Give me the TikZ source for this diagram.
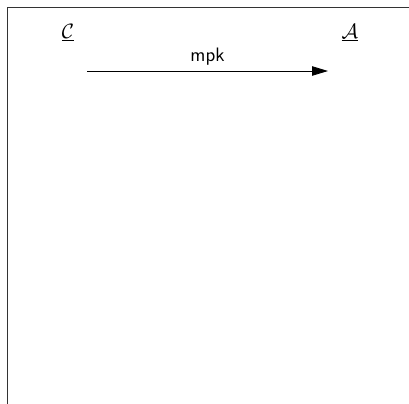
\documentclass[tikz,border=0pt]{standalone}
\usepackage{tikz}
\usepackage{amsmath}
\usetikzlibrary{arrows.meta}

\begin{document}
\begin{tikzpicture}[x=0.0244cm, y=-0.0244cm, font=\fontsize{13.5}{16}\selectfont]
    \tikzstyle{party} = [inner sep=0pt, anchor=base]
    \tikzstyle{msg} = [-{Triangle[length=11pt, width=6.5pt]}, line width=0.6pt]
    \useasboundingbox (0,0) rectangle (409,404);

    % Frame
    \draw[line width=0.6pt, black!80] (409,7) -- (7,7) -- (7,404);

    % Parties
    \node[party] (client) at (68,38) {\underline{$\mathcal{C}$}};
    \node[party] (authority) at (350,38) {\underline{$\mathcal{A}$}};

    % Messages
    \coordinate (m1s) at (87,71);
    \coordinate (m1e) at (328,71);
    \draw[msg] (m1s) -- node[above] {\textsf{mpk}} (m1e);
\end{tikzpicture}
\end{document}
